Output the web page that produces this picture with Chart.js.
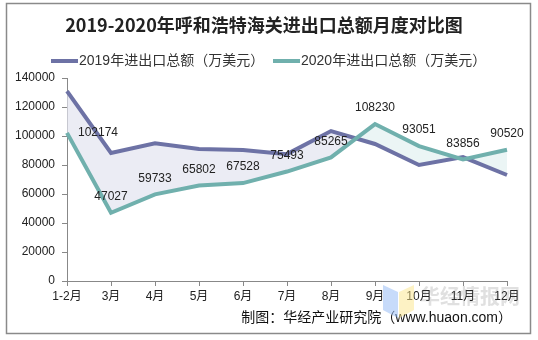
<!DOCTYPE html>
<html>
<head>
<meta charset="utf-8">
<script src="https://cdn.jsdelivr.net/npm/chart.js@4/dist/chart.umd.min.js"></script>
<style>
  html, body { margin: 0; padding: 0; background: #fff; }
  #wrap { width: 538px; height: 340px; position: relative; }
</style>
</head>
<body>
<div id="wrap"><canvas id="chart" width="538" height="340"></canvas></div>
<script>
// data
const months = ['1-2月', '3月', '4月', '5月', '6月', '7月', '8月', '9月', '10月', '11月', '12月'];
const values2019 = [131000, 88300, 95000, 91000, 90300, 87500, 103400, 94500, 80000, 85500, 73100];
const values2020 = [102174, 47027, 59733, 65802, 67528, 75493, 85265, 108230, 93051, 83856, 90520];
const yTicks = [0, 20000, 40000, 60000, 80000, 100000, 120000, 140000];

const titleText = '2019-2020年呼和浩特海关进出口总额月度对比图';
const seriesNames = ['2019年进出口总额（万美元）', '2020年进出口总额（万美元）'];
const sourceText = '制图：华经产业研究院（www.huaon.com）';

const color2019 = '#6d72a5';
const color2020 = '#70b0ad';
const cjk = '"Liberation Sans", "Noto Sans CJK SC", sans-serif';

// frame, title, legend, source, watermark
const decor = {
  id: 'decor',
  beforeDraw(chart) {
    const ctx = chart.ctx;
    ctx.save();
    ctx.fillStyle = '#fff';
    ctx.fillRect(0, 0, chart.width, chart.height);
    ctx.strokeStyle = '#8a8a8a';
    ctx.lineWidth = 1.5;
    ctx.strokeRect(6.5, 3.5, 524, 330);

    ctx.fillStyle = '#222';
    ctx.textAlign = 'center';
    ctx.textBaseline = 'middle';
    ctx.font = 'bold 18px "Noto Sans CJK SC", sans-serif';
    ctx.fillText(titleText, 264, 25);

    // legend
    const items = [[51, color2019], [273, color2020]];
    ctx.font = '14px ' + cjk;
    ctx.textAlign = 'left';
    items.forEach(([x, c], i) => {
      ctx.strokeStyle = c;
      ctx.lineWidth = 4;
      ctx.beginPath();
      ctx.moveTo(x, 61);
      ctx.lineTo(x + 27, 61);
      ctx.stroke();
      ctx.fillStyle = '#333';
      ctx.fillText(seriesNames[i], x + 28, 61);
    });

    ctx.fillStyle = '#111';
    ctx.textAlign = 'right';
    ctx.font = '14px ' + cjk;
    ctx.fillText(sourceText, 512, 318);
    ctx.restore();
  },
  afterDraw(chart) {
    const ctx = chart.ctx;
    ctx.save();
    // faint watermark
    ctx.globalAlpha = 0.5;
    ctx.fillStyle = '#8fb8f5';
    ctx.beginPath();
    ctx.moveTo(383, 285); ctx.lineTo(398, 292); ctx.lineTo(398, 318); ctx.lineTo(383, 310); ctx.closePath();
    ctx.fill();
    ctx.fillStyle = '#fbe58a';
    ctx.beginPath();
    ctx.moveTo(399, 292); ctx.lineTo(414, 285); ctx.lineTo(414, 310); ctx.lineTo(399, 318); ctx.closePath();
    ctx.fill();
    ctx.globalAlpha = 0.2;
    ctx.fillStyle = '#666';
    ctx.textAlign = 'left';
    ctx.textBaseline = 'middle';
    ctx.font = 'bold 20px "Noto Sans CJK SC", sans-serif';
    ctx.fillText('华经情报网', 420, 296);
    ctx.restore();
  }
};

// value labels for 2020
const valueLabels = {
  id: 'valueLabels',
  afterDatasetsDraw(chart) {
    const ctx = chart.ctx;
    const meta = chart.getDatasetMeta(1);
    ctx.save();
    ctx.font = '12px "Liberation Sans", Arial, sans-serif';
    ctx.fillStyle = '#222';
    ctx.textAlign = 'center';
    ctx.textBaseline = 'middle';
    meta.data.forEach((pt, i) => {
      const txt = String(values2020[i]);
      if (i === 0) ctx.fillText(txt, pt.x + 31, pt.y);
      else ctx.fillText(txt, pt.x, pt.y - 16);
    });
    ctx.restore();
  }
};

new Chart(document.getElementById('chart'), {
  type: 'line',
  data: {
    labels: months,
    datasets: [
      {
        label: seriesNames[0],
        data: values2019,
        borderColor: color2019,
        borderWidth: 4,
        pointRadius: 0,
        tension: 0,
        order: 1,
        fill: { target: 1, above: 'rgba(226,228,240,0.7)', below: 'rgba(222,238,238,0.6)' }
      },
      {
        label: seriesNames[1],
        data: values2020,
        borderColor: color2020,
        borderWidth: 4,
        pointRadius: 0,
        tension: 0,
        order: 0,
        fill: false
      }
    ]
  },
  options: {
    responsive: false,
    animation: false,
    layout: { padding: { left: 7, right: 31, top: 78, bottom: 0 } },
    plugins: {
      legend: { display: false },
      title: { display: false },
      tooltip: { enabled: false }
    },
    scales: {
      x: {
        offset: false,
        grid: { display: true, drawOnChartArea: false, tickLength: 5, color: '#888' },
        border: { color: '#888', width: 1 },
        ticks: {
          color: '#222',
          font: { size: 12, family: cjk },
          padding: 3,
          maxRotation: 0,
          autoSkip: false
        },
        afterFit(scale) { scale.height = 59; }
      },
      y: {
        min: 0,
        max: 140000,
        grid: { display: true, drawOnChartArea: false, tickLength: 5, color: '#888' },
        border: { color: '#888', width: 1 },
        afterBuildTicks(scale) { scale.ticks = yTicks.map(v => ({ value: v })); },
        ticks: {
          color: '#222',
          font: { size: 12, family: '"Liberation Sans", Arial, sans-serif' },
          padding: 7,
          callback: v => String(v)
        },
        afterFit(scale) { scale.width = 60; }
      }
    }
  },
  plugins: [decor, valueLabels]
});
</script>
</body>
</html>
